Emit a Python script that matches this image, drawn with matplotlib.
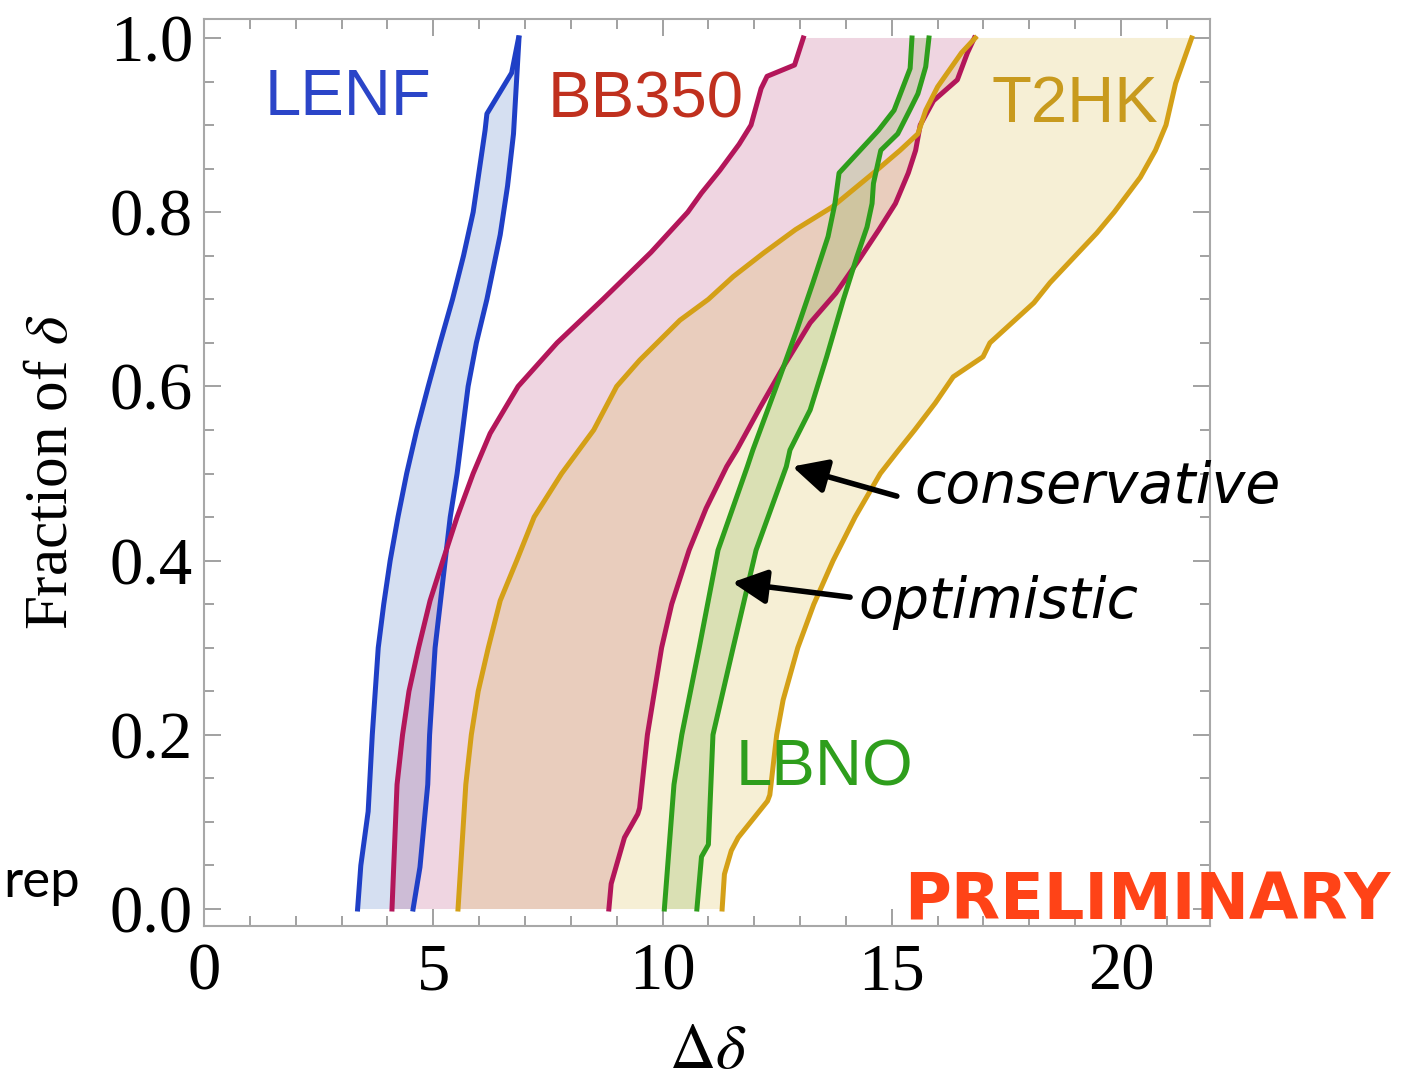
import numpy as np
import matplotlib
matplotlib.use("Agg")
import matplotlib.pyplot as plt

plt.rcParams['mathtext.fontset'] = 'stix'

# fraction of delta (y) vs. boundary value of delta-delta (x)
lenf_lo_y = [0, 0.05, 0.112, 0.2, 0.3, 0.35, 0.4, 0.45, 0.5, 0.55, 0.6, 0.65, 0.7, 0.75, 0.8,
             0.894, 0.913, 0.96, 1.0]
lenf_lo_x = [3.35, 3.42, 3.58, 3.67, 3.8, 3.92, 4.06, 4.23, 4.42, 4.64, 4.89, 5.15, 5.42, 5.66, 5.87,
             6.13, 6.17, 6.71, 6.86]
lenf_hi_y = [0, 0.048, 0.143, 0.2, 0.3, 0.4, 0.45, 0.5, 0.6, 0.65, 0.7, 0.774, 0.83, 0.89, 1.0]
lenf_hi_x = [4.56, 4.71, 4.88, 4.92, 5.04, 5.26, 5.37, 5.52, 5.76, 5.94, 6.17, 6.46, 6.62, 6.75, 6.87]

bb_lo_y = [0, 0.143, 0.2, 0.25, 0.3, 0.354, 0.4, 0.45, 0.5, 0.546, 0.6, 0.65, 0.7, 0.754,
           0.8, 0.822, 0.848, 0.878, 0.9, 0.942, 0.956, 0.969, 1.0]
bb_lo_x = [4.1, 4.21, 4.33, 4.47, 4.68, 4.93, 5.21, 5.52, 5.87, 6.24, 6.85, 7.7, 8.7, 9.75,
           10.55, 10.85, 11.25, 11.67, 11.93, 12.15, 12.28, 12.88, 13.07]
bb_hi_y = [0, 0.029, 0.082, 0.109, 0.116, 0.2, 0.3, 0.35, 0.412, 0.46, 0.508, 0.527, 0.576, 0.622,
           0.673, 0.707, 0.745, 0.78, 0.81, 0.845, 0.871, 0.9, 0.928, 0.94, 0.952, 0.983, 1.0]
bb_hi_x = [8.83, 8.88, 9.17, 9.46, 9.5, 9.67, 9.98, 10.2, 10.58, 10.95, 11.4, 11.62, 12.13, 12.63,
           13.22, 13.78, 14.28, 14.72, 15.08, 15.36, 15.52, 15.62, 15.91, 16.17, 16.43, 16.65, 16.8]

t2hk_lo_y = [0, 0.143, 0.2, 0.25, 0.3, 0.354, 0.4, 0.45, 0.5, 0.55, 0.6, 0.63, 0.676, 0.7, 0.726,
             0.753, 0.78, 0.806, 0.845, 0.871, 0.89, 0.917, 0.944, 0.983, 1.0]
t2hk_lo_x = [5.54, 5.71, 5.83, 5.98, 6.2, 6.46, 6.82, 7.2, 7.8, 8.5, 9.0, 9.5, 10.38, 11.0, 11.54,
             12.2, 12.9, 13.7, 14.6, 15.18, 15.57, 15.74, 16.0, 16.52, 16.82]
t2hk_hi_y = [0, 0.04, 0.067, 0.082, 0.124, 0.131, 0.2, 0.24, 0.3, 0.35, 0.4, 0.45, 0.5, 0.527, 0.55,
             0.581, 0.611, 0.634, 0.65, 0.696, 0.719, 0.776, 0.8, 0.84, 0.871, 0.9, 0.948, 1.0]
t2hk_hi_x = [11.3, 11.35, 11.5, 11.65, 12.29, 12.34, 12.49, 12.63, 12.95, 13.3, 13.72, 14.2, 14.75,
             15.15, 15.5, 15.95, 16.34, 16.99, 17.14, 18.1, 18.45, 19.47, 19.85, 20.42, 20.75,
             20.98, 21.19, 21.54]

lbno_lo_y = [0, 0.143, 0.2, 0.3, 0.412, 0.508, 0.527, 0.611, 0.665, 0.719, 0.772, 0.81,
             0.845, 0.874, 0.894, 0.917, 0.965, 1.0]
lbno_lo_x = [10.04, 10.25, 10.42, 10.8, 11.21, 11.85, 11.97, 12.56, 12.93, 13.28, 13.61, 13.76,
             13.85, 14.36, 14.71, 15.05, 15.40, 15.44]
lbno_hi_y = [0, 0.06, 0.074, 0.2, 0.3, 0.412, 0.508, 0.527, 0.573, 0.634, 0.699, 0.749, 0.783,
             0.81, 0.833, 0.871, 0.89, 0.917, 0.936, 0.967, 1.0]
lbno_hi_x = [10.75, 10.85, 11.0, 11.1, 11.54, 12.04, 12.7, 12.78, 13.22, 13.58, 13.94, 14.24, 14.46,
             14.57, 14.6, 14.76, 15.13, 15.39, 15.57, 15.74, 15.81]

bands = [
    ("LENF", lenf_lo_x, lenf_lo_y, lenf_hi_x, lenf_hi_y, '#1f3fc6', '#6a8fd0', 0.28),
    ("BB350", bb_lo_x, bb_lo_y, bb_hi_x, bb_hi_y, '#b3165a', '#b0306a', 0.20),
    ("T2HK", t2hk_lo_x, t2hk_lo_y, t2hk_hi_x, t2hk_hi_y, '#d4a017', '#d4b030', 0.20),
    ("LBNO", lbno_lo_x, lbno_lo_y, lbno_hi_x, lbno_hi_y, '#2e9e1c', '#6aa830', 0.20),
]

fig = plt.figure(figsize=(14.06, 10.87), dpi=100)
ax = fig.add_axes([204 / 1406, 161 / 1087, 1006 / 1406, 907 / 1087])

for name, xl, yl, xh, yh, lc, fc, a in bands:
    px = np.concatenate([xl, xh[::-1]])
    py = np.concatenate([yl, yh[::-1]])
    ax.fill(px, py, color=fc, alpha=a, lw=0)
for name, xl, yl, xh, yh, lc, fc, a in bands:
    ax.plot(xl, yl, color=lc, lw=3.6, solid_joinstyle='round')
    ax.plot(xh, yh, color=lc, lw=3.6, solid_joinstyle='round')

ax.set_xlim(0, 21.94)
ax.set_ylim(-0.0195, 1.0218)
ax.set_xticks([0, 5, 10, 15, 20])
ax.set_xticks(np.arange(0, 22, 1), minor=True)
ax.set_yticks([0, 0.2, 0.4, 0.6, 0.8, 1.0])
ax.set_yticks(np.arange(0, 1.01, 0.05), minor=True)
ax.set_yticklabels(['0.0', '0.2', '0.4', '0.6', '0.8', '1.0'])
ax.tick_params(which='both', direction='in', top=True, right=True, color='#9a9a9a', width=1.3,
               labelsize=48, labelfontfamily='Liberation Serif')
ax.tick_params(which='major', length=12)
ax.tick_params(which='minor', length=7)
ax.tick_params(axis='x', pad=12)
ax.tick_params(axis='y', pad=8)
for s in ax.spines.values():
    s.set_color('#a8a8a8')
    s.set_linewidth(1.5)

lab = dict(family='Liberation Sans', fontsize=47)
ax.text(1.33, 0.912, "LENF", color='#2b45c8', **lab)
ax.text(7.5, 0.909, "BB350", color='#c0301e', **lab)
ax.text(17.17, 0.904, "T2HK", color='#c89a1e', **lab)
ax.text(11.6, 0.142, "LBNO", color='#2e9e1c', **lab)

arr = dict(arrowstyle='-|>,head_length=0.8,head_width=0.4', color='black', lw=4,
           mutation_scale=26, shrinkA=0, shrinkB=0)
ax.annotate('', xy=(12.83, 0.508), xytext=(15.11, 0.474), arrowprops=arr)
ax.annotate('', xy=(11.52, 0.375), xytext=(14.09, 0.358), arrowprops=arr)
hand = dict(family='DejaVu Sans', style='oblique', fontsize=41, color='black')
ax.text(15.5, 0.466, "conservative", **hand)
ax.text(14.27, 0.334, "optimistic", **hand)

fig.text(52 / 1406, 1 - 472 / 1087, r"Fraction of $\delta$", rotation=90, ha='center', va='center',
         family='Liberation Serif', fontsize=44)
fig.text(708 / 1406, 1 - 1068 / 1087, r"$\Delta\delta$", ha='center', va='baseline', fontsize=46)

fig.text(1391 / 1406, 1 - 919 / 1087, "PRELIMINARY", ha='right', va='baseline', color='#ff4317',
         family='DejaVu Sans', weight='bold', fontsize=46)
fig.text(3 / 1406, 1 - 897 / 1087, "rep", ha='left', va='baseline', color='black',
         family='Lato', fontsize=38)

fig.savefig("out.png", dpi=100)
